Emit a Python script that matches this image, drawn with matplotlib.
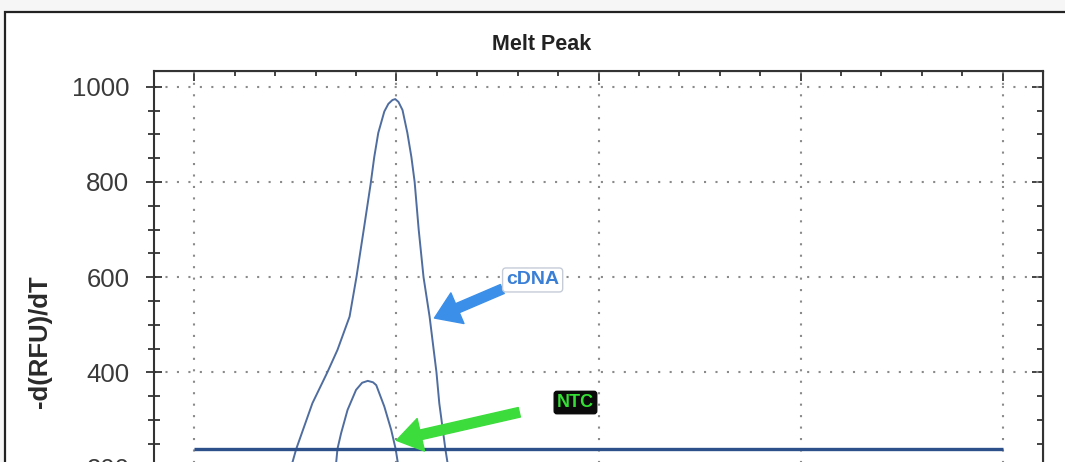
import matplotlib
matplotlib.use('Agg')
import matplotlib.pyplot as plt
from matplotlib.patches import Rectangle
from matplotlib.ticker import MultipleLocator

plt.rcParams['font.family'] = ['Liberation Sans', 'DejaVu Sans']

# 数据：熔解曲线 (温度 °C, -d(RFU)/dT)
cdna_temp = [72.30, 72.43, 72.52, 72.92, 73.29, 73.54, 73.84, 74.01, 74.20, 74.36, 74.45,
             74.55, 74.70, 74.80, 74.90, 74.97, 75.05, 75.15, 75.27, 75.37, 75.45, 75.55,
             75.67, 75.82, 75.99, 76.06, 76.21, 76.26, 76.30]
cdna_val = [185, 212, 239, 335, 400, 447, 517, 600, 705, 795, 852,
            903, 948, 964, 972, 974, 968, 951, 903, 852, 800, 700,
            600, 517, 400, 335, 239, 212, 190]

ntc_temp = [73.45, 73.51, 73.54, 73.63, 73.79, 74.00, 74.15, 74.29, 74.42, 74.50,
            74.70, 74.87, 74.98, 75.03, 75.06]
ntc_val = [190, 212, 239, 272, 321, 363, 378, 382, 379, 373,
           328, 279, 239, 212, 195]

threshold = 238
thr_range = [70, 90]

fig = plt.figure(figsize=(10.65, 4.62), dpi=100, facecolor='#f6f6f6')
# 截图外框
frame_top = 1 - 12 / 462
fig.patches.append(Rectangle((5 / 1065, -0.2), 1.2, frame_top + 0.2,
                             transform=fig.transFigure, fc='white', ec='#222222',
                             lw=1.6, zorder=-5))

ax = fig.add_axes([154 / 1065, 1 - 562.7 / 462, 889 / 1065, 491.7 / 462])
ax.set_xlim(69, 91)
ax.set_ylim(0, 1033)

ax.plot(cdna_temp, cdna_val, color='#4f6d9e', lw=1.4, solid_joinstyle='round')
ax.plot(ntc_temp, ntc_val, color='#4f6d9e', lw=1.4, solid_joinstyle='round')
ax.hlines(threshold, thr_range[0], thr_range[1], color='#2d4f8a', lw=2.4)

ax.xaxis.set_major_locator(MultipleLocator(5))
ax.xaxis.set_minor_locator(MultipleLocator(1))
ax.yaxis.set_major_locator(MultipleLocator(200))
ax.yaxis.set_minor_locator(MultipleLocator(50))
ax.grid(which='major', ls=(0, (1, 4.5)), color='#8a8a8a', lw=1.5)

for s in ax.spines.values():
    s.set_color('#333333')
    s.set_linewidth(1.5)

ax.tick_params(axis='y', which='major', direction='inout', length=11.5, width=1.2,
               color='#222222', labelsize=18.5, labelcolor='#3a3a3a', pad=12)
ax.tick_params(axis='y', which='minor', direction='inout', length=8, width=1.2,
               color='#222222')
ax.tick_params(axis='x', which='both', labelbottom=False)

sec_y = ax.secondary_yaxis('right')
sec_y.yaxis.set_major_locator(MultipleLocator(200))
sec_y.yaxis.set_minor_locator(MultipleLocator(50))
sec_y.tick_params(which='major', direction='in', length=8, width=1.2, color='#222222',
                  labelright=False)
sec_y.tick_params(which='minor', direction='in', length=4.3, width=1.2, color='#222222')

sec_x = ax.secondary_xaxis('top')
sec_x.xaxis.set_major_locator(MultipleLocator(5))
sec_x.xaxis.set_minor_locator(MultipleLocator(1))
sec_x.tick_params(which='major', direction='in', length=7, width=1.2, color='#222222',
                  labeltop=False)
sec_x.tick_params(which='minor', direction='in', length=3.6, width=1.2, color='#222222')

# 标注
ax.annotate('', xy=(75.94, 514), xytext=(77.62, 575),
            arrowprops=dict(arrowstyle='simple,head_width=1.2,head_length=0.9,tail_width=0.35',
                            color='#3b8fe8', mutation_scale=20, shrinkA=0, shrinkB=0))
ax.text(78.37, 594, 'cDNA', color='#3a7fd6', fontsize=14, fontweight='bold',
        ha='center', va='center',
        bbox=dict(boxstyle='round,pad=0.18', fc='white', ec='#c5ccd8', lw=1))

ax.annotate('', xy=(75.0, 257), xytext=(78.04, 316),
            arrowprops=dict(arrowstyle='simple,head_width=1.2,head_length=0.9,tail_width=0.35',
                            color='#3ddc3d', mutation_scale=20, shrinkA=0, shrinkB=0))
ax.text(79.43, 336.5, 'NTC', color='#33e033', fontsize=13, fontweight='bold',
        ha='center', va='center',
        bbox=dict(boxstyle='round,pad=0.15', fc='#0a0a0a', ec='#0a0a0a', lw=1))

fig.text(542 / 1065, 1 - 44 / 462, 'Melt Peak', fontsize=15.5, fontweight='bold',
         color='#222222', ha='center', va='center')
fig.text(40 / 1065, 1 - 342 / 462, '-d(RFU)/dT', fontsize=18.5, fontweight='bold',
         color='#2a2a2a', ha='center', va='center', rotation=90)

fig.savefig('out.png', dpi=100, facecolor=fig.get_facecolor())
